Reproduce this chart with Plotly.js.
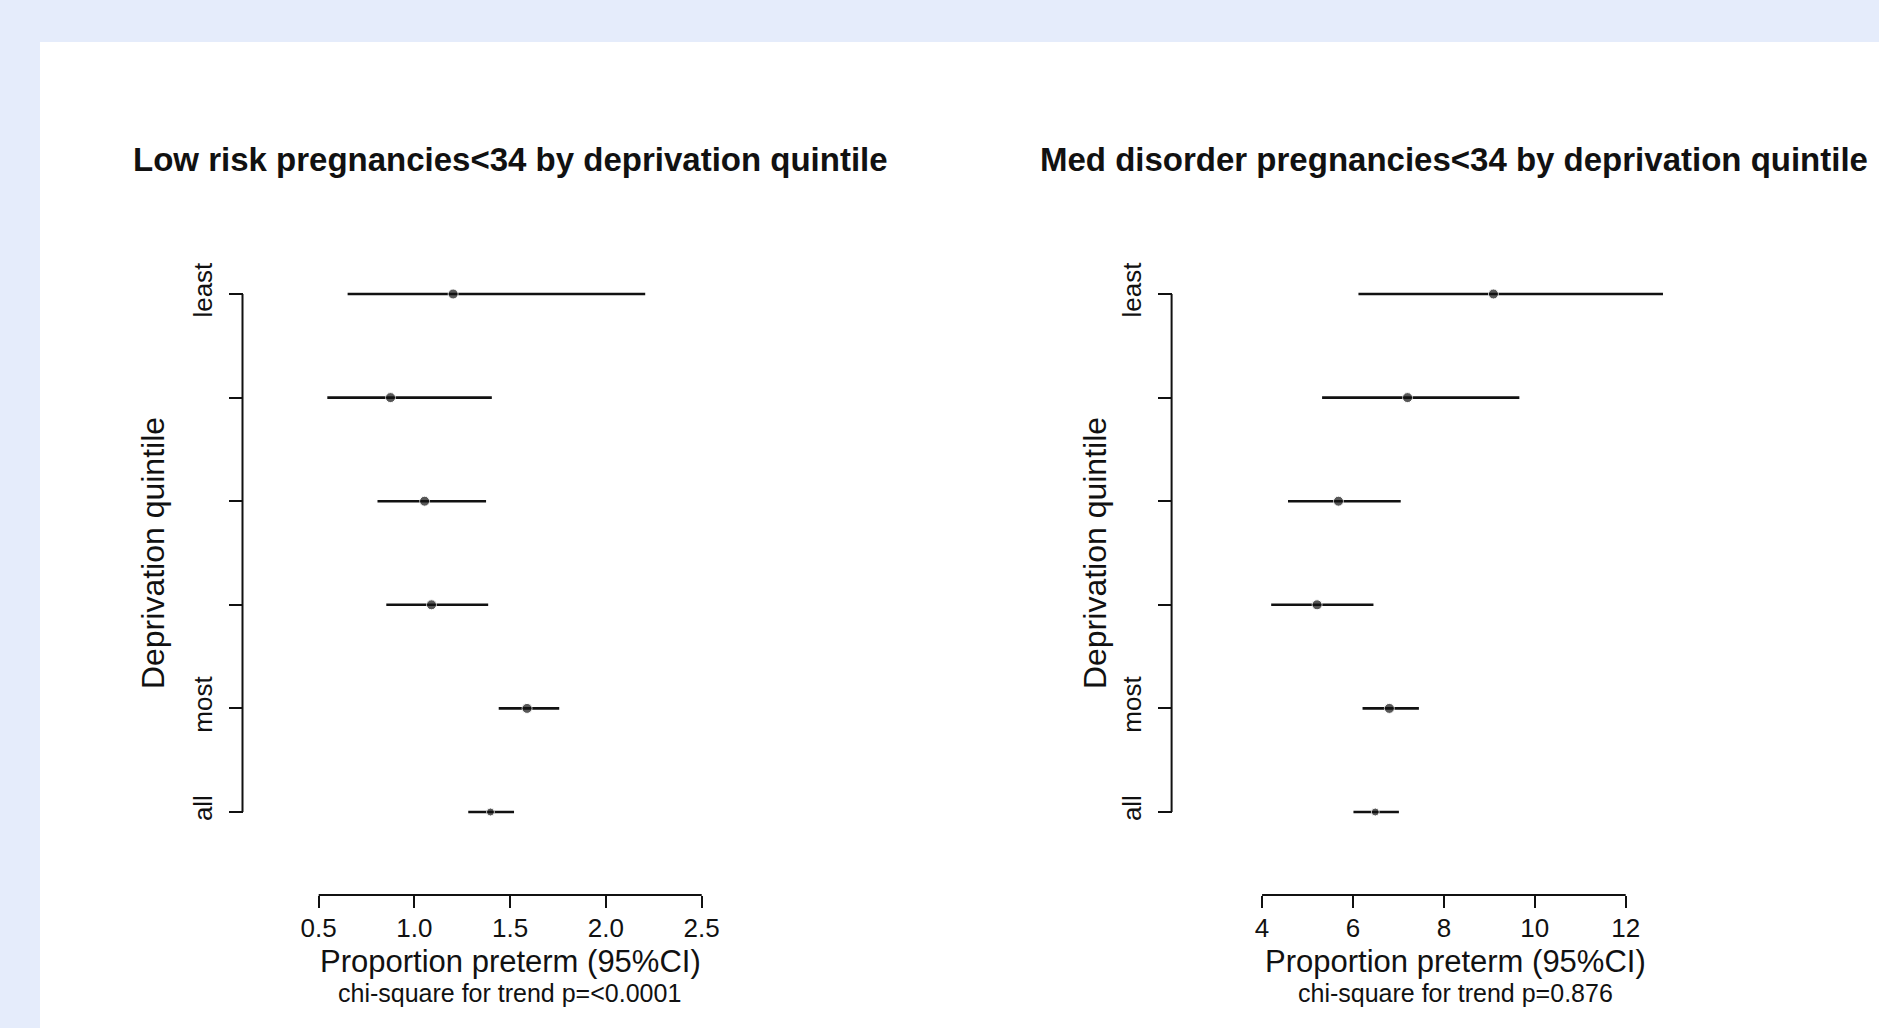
<!DOCTYPE html>
<html>
<head>
<meta charset="utf-8">
<script src="https://cdn.plot.ly/plotly-3.0.1.min.js"></script>
<style>html,body{margin:0;padding:0;background:#e5ecfb;}#chart{width:1879px;height:1028px;}</style>
</head>
<body>
<div id="chart"></div>
<script>
// ---- data ----
const categories = ["least", "2", "3", "4", "most", "all"];
const tickLabels = ["least", "", "", "", "most", "all"];

const lowEst   = [1.202, 0.875, 1.053, 1.089, 1.588, 1.397];
const lowLower = [0.651, 0.545, 0.807, 0.853, 1.440, 1.281];
const lowUpper = [2.205, 1.404, 1.374, 1.385, 1.756, 1.520];

const medEst   = [9.09, 7.20, 5.68, 5.21, 6.80, 6.49];
const medLower = [6.12, 5.32, 4.57, 4.20, 6.21, 6.01];
const medUpper = [12.82, 9.66, 7.05, 6.45, 7.45, 7.01];

const lowTicks = [0.5, 1.0, 1.5, 2.0, 2.5];
const lowTickText = ["0.5", "1.0", "1.5", "2.0", "2.5"];
const medTicks = [4, 6, 8, 10, 12];
const medTickText = ["4", "6", "8", "10", "12"];

const titleLow = "Low risk pregnancies<34 by deprivation quintile";
const titleMed = "Med disorder pregnancies<34 by deprivation quintile";
const xTitle = "Proportion preterm (95%CI)";
const yTitle = "Deprivation quintile";
const subLow = "chi-square for trend p=<0.0001";
const subMed = "chi-square for trend p=0.876";

// ---- layout helpers ----
const W = 1879, H = 1028;
const fx = p => p / W;
const fy = p => 1 - p / H;
const FONT = "Liberation Sans, Arial, Helvetica, sans-serif";
const INK = "#111111";
const esc = s => s.replace(/</g, "&lt;");

const rowPos = categories.map((c, i) => categories.length - 1 - i);
const nRows = categories.length;

function forestTrace(est, lo, hi, xa, ya) {
  return {
    type: "scatter",
    mode: "markers",
    x: est,
    y: rowPos,
    text: categories,
    xaxis: xa,
    yaxis: ya,
    cliponaxis: false,
    showlegend: false,
    marker: {color: INK, size: [10, 10, 10, 10, 10, 8]},
    error_x: {
      type: "data",
      symmetric: false,
      array: hi.map((h, i) => h - est[i]),
      arrayminus: lo.map((l, i) => est[i] - l),
      width: 0,
      thickness: 2.6,
      color: INK
    }
  };
}

const traces = [
  forestTrace(lowEst, lowLower, lowUpper, "x", "y"),
  forestTrace(medEst, medLower, medUpper, "x2", "y2")
];

// rows: top row at y=294px, bottom row at y=812px; pad the range a little
const rowTop = 294, rowBot = 812;
const pxPerRow = (rowBot - rowTop) / (nRows - 1);
const yPad = 0.2;
const yDomain = [fy(rowBot + yPad * pxPerRow), fy(rowTop - yPad * pxPerRow)];
const xPosPx = 895;
const xPos = fy(xPosPx);

// x axes: value -> pixel scale
const lowX0 = 318.7, lowPxPerUnit = 191.5;
const medX0 = 1262.1, medPxPerUnit = 45.45;
const lowRange = [0.4, 2.6];
const medRange = [3.6, 13.2];
const lowDomain = [fx(lowX0 + (lowRange[0] - lowTicks[0]) * lowPxPerUnit), fx(lowX0 + (lowRange[1] - lowTicks[0]) * lowPxPerUnit)];
const medDomain = [fx(medX0 + (medRange[0] - medTicks[0]) * medPxPerUnit), fx(medX0 + (medRange[1] - medTicks[0]) * medPxPerUnit)];

function xAxis(domain, range, tv, tt) {
  return {
    domain: domain, range: range, anchor: "free", position: xPos,
    showgrid: false, zeroline: false, showline: false,
    ticks: "outside", ticklen: 12, tickwidth: 2, tickcolor: INK,
    tickvals: tv, ticktext: tt, ticklabelstandoff: -2,
    tickfont: {family: FONT, size: 26, color: INK}
  };
}
function yAxis(pos, standoff, titleSize) {
  return {
    domain: yDomain, range: [-yPad, nRows - 1 + yPad], anchor: "free", position: pos,
    showgrid: false, zeroline: false, showline: false,
    ticks: "outside", ticklen: 14, tickwidth: 2, tickcolor: INK,
    tickvals: rowPos, ticktext: tickLabels, tickangle: -90, ticklabelstandoff: 6,
    tickfont: {family: FONT, size: 26, color: INK},
    title: {text: yTitle, font: {family: FONT, size: titleSize, color: INK}, standoff: standoff}
  };
}

const yPosLow = fx(242.5), yPosMed = fx(1171.6);

function axisLineX(xref, ticks) {
  return {type: "line", xref: xref, yref: "paper", x0: ticks[0], x1: ticks[ticks.length - 1],
          y0: xPos, y1: xPos, line: {color: INK, width: 2}};
}
function axisLineY(yref, xp) {
  return {type: "line", xref: "paper", yref: yref, x0: xp, x1: xp,
          y0: Math.min(...rowPos), y1: Math.max(...rowPos), line: {color: INK, width: 2}};
}

function txt(text, xpx, ypx, size, bold) {
  return {text: bold ? "<b>" + esc(text) + "</b>" : esc(text), xref: "paper", yref: "paper",
          x: fx(xpx), y: fy(ypx), xanchor: "center", yanchor: "middle", showarrow: false,
          borderpad: 0, font: {family: FONT, size: size, color: INK}};
}

const layout = {
  width: W, height: H,
  margin: {l: 0, r: 0, t: 0, b: 0, pad: 0},
  paper_bgcolor: "#e5ecfb",
  plot_bgcolor: "rgba(0,0,0,0)",
  font: {family: FONT, color: INK},
  xaxis: xAxis(lowDomain, lowRange, lowTicks, lowTickText),
  yaxis: yAxis(yPosLow, 12, 32),
  xaxis2: xAxis(medDomain, medRange, medTicks, medTickText),
  yaxis2: yAxis(yPosMed, 0, 32),
  shapes: [
    {type: "rect", xref: "paper", yref: "paper", layer: "below",
     x0: fx(40), x1: 1, y0: 0, y1: fy(42), fillcolor: "white", line: {width: 0}},
    axisLineX("x", lowTicks), axisLineX("x2", medTicks),
    axisLineY("y", yPosLow), axisLineY("y2", yPosMed)
  ],
  annotations: [
    txt(titleLow, 511, 159, 33, true),
    txt(titleMed, 1454, 159, 33, true),
    txt(xTitle, 510, 961, 31, false),
    txt(xTitle, 1455, 961, 31, false),
    txt(subLow, 509, 993, 25, false),
    txt(subMed, 1455, 993, 25, false)
  ]
};

Plotly.newPlot("chart", traces, layout, {displayModeBar: false, staticPlot: true});
</script>
</body>
</html>
